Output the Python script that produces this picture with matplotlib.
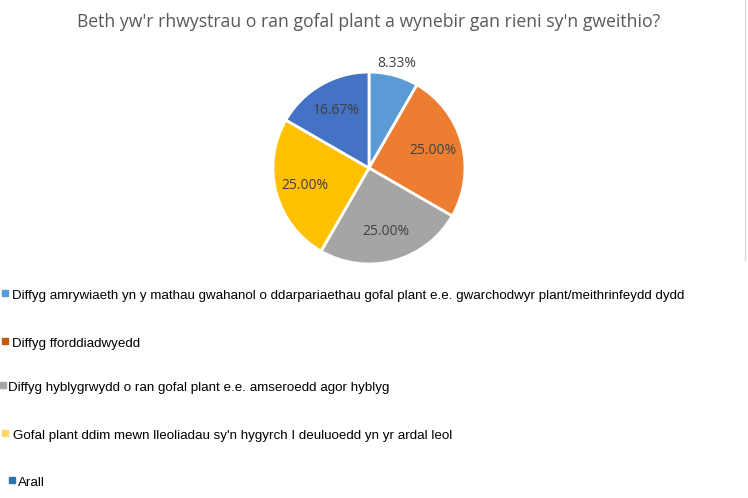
import matplotlib
matplotlib.use("Agg")
import matplotlib.pyplot as plt
import numpy as np
from matplotlib.lines import Line2D

title = "Beth yw'r rhwystrau o ran gofal plant a wynebir gan rieni sy'n gweithio?"
categories = [
    "Diffyg amrywiaeth yn y mathau gwahanol o ddarpariaethau gofal plant e.e. gwarchodwyr plant/meithrinfeydd dydd",
    "Diffyg fforddiadwyedd",
    "Diffyg hyblygrwydd o ran gofal plant e.e. amseroedd agor hyblyg",
    "Gofal plant ddim mewn lleoliadau sy'n hygyrch I deuluoedd yn yr ardal leol",
    "Arall",
]
shares = [8.33, 25.00, 25.00, 25.00, 16.67]
slice_colors = ["#5B9BD5", "#ED7D31", "#A5A5A5", "#FFC000", "#4472C4"]
legend_colors = ["#5B9BD5", "#C55A11", "#A5A5A5", "#FFD966", "#2E75B6"]

W, H = 748, 498
fig = plt.figure(figsize=(W / 100, H / 100), dpi=100)

# pie centre and radius in pixels
cx, cy, r = 369, 168, 96
ax = fig.add_axes([(cx - 100) / W, (H - cy - 100) / H, 200 / W, 200 / H])
wedges, texts, autotexts = ax.pie(
    shares, colors=slice_colors, startangle=90, counterclock=False,
    autopct="%.2f%%", pctdistance=0.69,
    wedgeprops=dict(edgecolor="white", linewidth=2),
    textprops=dict(color="#404040", fontsize=10, family="Open Sans"),
)
ax.set_xlim(-100 / r, 100 / r)
ax.set_ylim(-100 / r, 100 / r)
ax.set_aspect("equal")
ax.axis("off")

# small slice label sits outside the pie
w0 = wedges[0]
mid = np.deg2rad((w0.theta1 + w0.theta2) / 2)
autotexts[0].set_position((1.13 * np.cos(mid), 1.13 * np.sin(mid)))

fig.text(369 / W, 1 - 22 / H, title, ha="center", va="center",
         fontsize=12.7, color="#595959", family="Open Sans")

# legend rows (Excel-style, staggered)
rows_y = [296, 344, 388, 436, 483]
marker_x = [5, 5, 3, 5, 12]
text_x = [12, 12, 8, 13, 18]
for lab, col, y, mx, tx in zip(categories, legend_colors, rows_y, marker_x, text_x):
    fig.patches.append(plt.Rectangle(((mx - 3) / W, 1 - (y - 3 + 3) / H), 6 / W, 6 / H,
                                     transform=fig.transFigure, color=col, figure=fig))
    fig.text(tx / W, 1 - y / H, lab, ha="left", va="center",
             fontsize=9.6, color="black", family="Liberation Sans")

fig.lines.append(Line2D([745 / W, 745 / W], [1, 1 - 260 / H], transform=fig.transFigure,
                        color="#D9D9D9", linewidth=1))

fig.savefig("out.png", dpi=100)
